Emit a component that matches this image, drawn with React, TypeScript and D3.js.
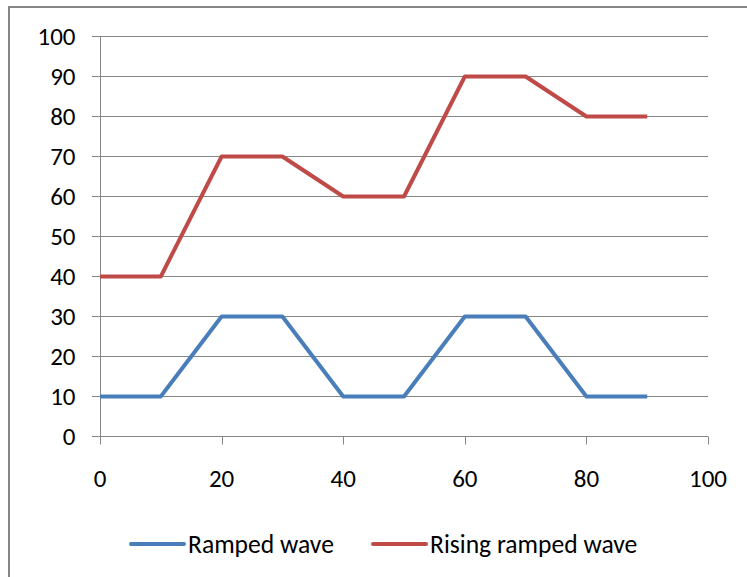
import React, { useEffect, useRef } from 'react';
import * as d3 from 'd3';

const xValues = [0, 10, 20, 30, 40, 50, 60, 70, 80, 90];
const rampedWave = [10, 10, 30, 30, 10, 10, 30, 30, 10, 10];
const risingRampedWave = [40, 40, 70, 70, 60, 60, 90, 90, 80, 80];
const xTicks = [0, 20, 40, 60, 80, 100];
const yTicks = [0, 10, 20, 30, 40, 50, 60, 70, 80, 90, 100];

const seriesList = [
  { name: 'Ramped wave', values: rampedWave, color: '#4A7EBB' },
  { name: 'Rising ramped wave', values: risingRampedWave, color: '#BE4B48' },
];

const font = 'Carlito, Calibri, "Open Sans", "Noto Sans", sans-serif';
const tickSize = 25;
const legendSize = 25.6;

const App = () => {
  const ref = useRef<SVGSVGElement>(null);

  useEffect(() => {
    if (!ref.current) return;
    const svg = d3.select(ref.current);
    svg.selectAll('*').remove();

    // chart border
    svg
      .append('rect')
      .attr('x', 9)
      .attr('y', 7)
      .attr('width', 760)
      .attr('height', 600)
      .attr('fill', 'white')
      .attr('stroke', '#868686')
      .attr('stroke-width', 2);

    const x = d3.scaleLinear().domain([0, 100]).range([100, 708]);
    const y = d3.scaleLinear().domain([0, 100]).range([436.5, 36.5]);

    // grid lines + y ticks
    svg
      .append('g')
      .selectAll('line')
      .data(yTicks)
      .join('line')
      .attr('x1', 92)
      .attr('x2', x(100))
      .attr('y1', (d) => y(d))
      .attr('y2', (d) => y(d))
      .attr('stroke', '#868686')
      .attr('stroke-width', 1);

    // y axis line
    svg
      .append('line')
      .attr('x1', x(0) + 0.5)
      .attr('x2', x(0) + 0.5)
      .attr('y1', y(100))
      .attr('y2', y(0))
      .attr('stroke', '#868686');

    // x ticks
    svg
      .append('g')
      .selectAll('line')
      .data(xTicks)
      .join('line')
      .attr('x1', (d) => Math.round(x(d)) + 0.5)
      .attr('x2', (d) => Math.round(x(d)) + 0.5)
      .attr('y1', y(0))
      .attr('y2', y(0) + 8)
      .attr('stroke', '#868686');

    // y labels
    svg
      .append('g')
      .selectAll('text')
      .data(yTicks)
      .join('text')
      .attr('x', 75.5)
      .attr('y', (d) => y(d))
      .attr('dy', '0.35em')
      .attr('text-anchor', 'end')
      .attr('font-family', font)
      .attr('font-size', tickSize)
      .attr('fill', '#000')
      .text((d) => d);

    // x labels
    svg
      .append('g')
      .selectAll('text')
      .data(xTicks)
      .join('text')
      .attr('x', (d) => x(d))
      .attr('y', 487)
      .attr('text-anchor', 'middle')
      .attr('font-family', font)
      .attr('font-size', tickSize)
      .attr('fill', '#000')
      .text((d) => d);

    // series
    const line = d3
      .line<number>()
      .x((_, i) => x(xValues[i]))
      .y((d) => y(d));

    seriesList.forEach((s) => {
      svg
        .append('path')
        .datum(s.values)
        .attr('d', line)
        .attr('fill', 'none')
        .attr('stroke', s.color)
        .attr('stroke-width', 4)
        .attr('stroke-linejoin', 'round');
    });

    // legend
    const legendX = [131, 373];
    const legendY = 544;
    seriesList.forEach((s, i) => {
      svg
        .append('line')
        .attr('x1', legendX[i])
        .attr('x2', legendX[i] + 53)
        .attr('y1', legendY)
        .attr('y2', legendY)
        .attr('stroke', s.color)
        .attr('stroke-width', 4)
        .attr('stroke-linecap', 'round');
      svg
        .append('text')
        .attr('x', legendX[i] + 57)
        .attr('y', legendY)
        .attr('dy', '0.35em')
        .attr('font-family', font)
        .attr('font-size', legendSize)
        .attr('fill', '#000')
        .text(s.name);
    });
  }, []);

  return (
    <svg
      ref={ref}
      width={747}
      height={577}
      style={{ position: 'absolute', left: 0, top: 0 }}
    />
  );
};

export default App;
